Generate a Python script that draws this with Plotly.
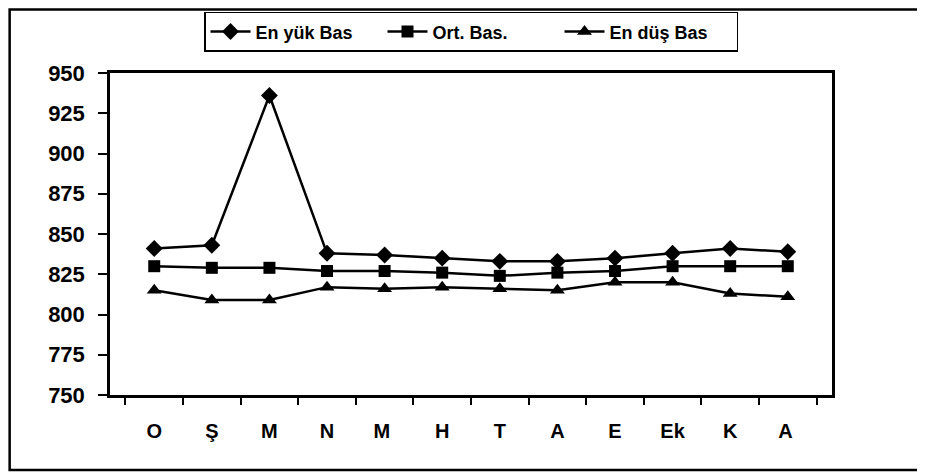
import plotly.graph_objects as go

months = ["O", "Ş", "M", "N", "M ", "H", "T", "A", "E", "Ek", "K", "A "]
en_yuk = [841, 843, 936, 838, 837, 835, 833, 833, 835, 838, 841, 839]
ort = [830, 829, 829, 827, 827, 826, 824, 826, 827, 830, 830, 830]
en_dus = [815, 809, 809, 817, 816, 817, 816, 815, 820, 820, 813, 811]
names = ["En yük Bas", "Ort. Bas.", "En düş Bas"]
symbols = ["diamond", "square", "triangle-up"]
sizes = [13, 12, 13]
yticks = [750, 775, 800, 825, 850, 875, 900, 925, 950]

FONT = "Liberation Sans, Arial"

fig = go.Figure()
for name, vals, sym, sz in zip(names, [en_yuk, ort, en_dus], symbols, sizes):
    fig.add_trace(go.Scatter(x=months, y=vals, name=name, mode="lines+markers",
                             line=dict(color="black", width=2.5),
                             marker=dict(symbol=sym, size=sz, color="black")))

# page body has an 8px margin, so the figure is sized to fit the 925x475 window
fig.update_layout(
    width=917, height=467,
    margin=dict(l=102, r=93, t=65, b=80, autoexpand=False),
    paper_bgcolor="white", plot_bgcolor="white",
    font=dict(family=FONT, color="black"),
    showlegend=True,
    legend=dict(orientation="h", x=0.5, xanchor="center", y=1.19, yanchor="top",
                bordercolor="black", borderwidth=1.5,
                font=dict(size=18, weight="bold", family=FONT),
                itemwidth=40, entrywidth=122, tracegroupgap=0),
    xaxis=dict(type="category", tickson="boundaries", ticks="outside", ticklen=7,
               tickwidth=1.5, tickcolor="black", showline=True, linecolor="black",
               linewidth=2.5, mirror=True, showgrid=False,
               tickfont=dict(size=20, weight="bold", family=FONT), ticklabelstandoff=16),
    yaxis=dict(range=[750, 950], tickvals=yticks, ticks="outside", ticklen=9,
               tickwidth=1.5, tickcolor="black", showline=True, linecolor="black",
               linewidth=2.5, mirror=True, showgrid=False,
               tickfont=dict(size=22, weight="bold", family=FONT), ticklabelstandoff=9),
)
fig.add_shape(type="rect", xref="paper", yref="paper", x0=-0.139, x1=1.122,
              y0=-0.233, y1=1.197, line=dict(color="black", width=2.5))
fig.write_html("out.html")
